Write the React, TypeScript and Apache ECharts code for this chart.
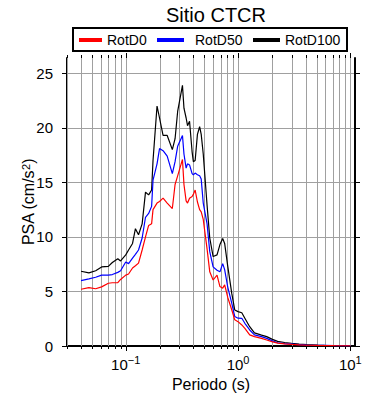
import React, { useEffect, useRef } from 'react';
import * as echarts from 'echarts';

const FONT = '"Liberation Sans", Arial, Helvetica, sans-serif';

const periods = [0.04, 0.047, 0.054, 0.061, 0.07, 0.076, 0.085, 0.09, 0.1, 0.106, 0.115, 0.122, 0.13, 0.14, 0.15, 0.16, 0.17, 0.175, 0.19, 0.2, 0.215, 0.234, 0.26, 0.275, 0.29, 0.32, 0.33, 0.345, 0.355, 0.37, 0.39, 0.4, 0.415, 0.435, 0.455, 0.47, 0.49, 0.53, 0.56, 0.6, 0.65, 0.69, 0.73, 0.76, 0.81, 0.88, 0.935, 1.0, 1.08, 1.15, 1.27, 1.4, 1.62, 1.8, 2.0, 2.25, 2.6, 3.0, 3.5, 4.1, 5.1, 5.9, 7.2, 10];

const rotD0 = [5.2, 5.35, 5.25, 5.42, 5.75, 5.8, 5.8, 6.1, 6.5, 6.6, 7.15, 7.35, 7.6, 8.8, 10.0, 11.05, 11.2, 12.5, 13.1, 13.25, 13.55, 13.1, 12.6, 14.8, 15.6, 17.1, 14.8, 13.3, 13.1, 13.55, 13.7, 13.9, 14.3, 13.2, 12.5, 12.3, 11.6, 8.9, 6.8, 6.05, 6.5, 5.45, 5.3, 5.6, 4.45, 3.3, 2.4, 2.23, 1.93, 1.62, 1.02, 0.86, 0.7, 0.55, 0.4, 0.26, 0.2, 0.15, 0.1, 0.07, 0.05, 0.04, 0.03, 0.02];

const rotD50 = [6.0, 6.15, 6.3, 6.5, 6.5, 6.55, 6.75, 6.9, 7.7, 7.55, 8.05, 8.4, 8.8, 9.9, 11.8, 12.15, 12.8, 15.2, 16.7, 18.1, 17.9, 17.4, 15.8, 16.9, 18.3, 19.3, 17.6, 16.3, 16.7, 16.6, 15.8, 15.7, 15.85, 15.7, 15.6, 15.3, 13.1, 11.2, 8.65, 7.25, 6.95, 6.8, 7.55, 7.0, 5.4, 3.9, 2.7, 2.55, 2.54, 2.08, 1.47, 1.02, 0.86, 0.7, 0.49, 0.3, 0.22, 0.18, 0.13, 0.09, 0.06, 0.05, 0.03, 0.02];

const rotD100 = [6.85, 6.7, 6.9, 7.25, 7.3, 7.65, 8.0, 7.8, 8.35, 8.8, 9.4, 10.75, 10.2, 11.2, 14.1, 13.85, 14.3, 17.0, 22.0, 20.9, 19.3, 19.3, 18.0, 19.0, 21.5, 23.9, 21.8, 20.9, 20.2, 20.6, 17.8, 16.9, 17.0, 19.4, 20.1, 19.4, 17.6, 12.9, 9.9, 8.2, 8.35, 9.3, 9.85, 9.4, 7.3, 4.8, 3.3, 3.15, 3.05, 2.55, 1.77, 1.2, 1.0, 0.86, 0.63, 0.42, 0.32, 0.25, 0.18, 0.12, 0.08, 0.06, 0.04, 0.02];

const seriesNames = ['RotD0', 'RotD50', 'RotD100'];
const seriesColors = ['#ff0000', '#0000ff', '#000000'];
const yTicks = [0, 5, 10, 15, 20, 25];
const gridPeriods = [0.03, 0.04, 0.05, 0.06, 0.07, 0.08, 0.09, 0.1, 0.2, 0.3, 0.4, 0.5, 0.6, 0.7, 0.8, 0.9, 1, 2, 3, 4, 5, 6, 7, 8, 9, 10];

const X_MIN = 0.03;
const X_MAX = 11;
const Y_MIN = 0;
const Y_MAX = 26.4;
const GRID_COLOR = '#a0a0a0';

function isDecade(v: number) {
  const lg = Math.log10(v);
  return Math.abs(lg - Math.round(lg)) < 1e-6;
}

function buildOption() {
  const allSeries = [rotD0, rotD50, rotD100];
  const lineSeries = allSeries.map((vals, i) => ({
    name: seriesNames[i],
    type: 'line',
    data: periods.map((p, j) => [p, vals[j]]),
    showSymbol: false,
    symbol: 'none',
    color: seriesColors[i],
    lineStyle: { color: seriesColors[i], width: 1.2 },
    z: 5 - i,
    xAxisIndex: 0,
    yAxisIndex: 0,
  }));

  const gridSeries = {
    name: 'xgrid',
    type: 'custom',
    xAxisIndex: 0,
    yAxisIndex: 0,
    clip: false,
    silent: true,
    z: 1,
    data: gridPeriods.map((p) => [p, 0]),
    renderItem: (params: any, api: any) => {
      const x = api.value(0);
      const top = api.coord([x, Y_MAX]);
      const bot = api.coord([x, Y_MIN]);
      const px = Math.round(top[0]) + 0.5;
      const len = isDecade(x) ? 5 : 3;
      return {
        type: 'group',
        children: [
          { type: 'line', shape: { x1: px, y1: top[1], x2: px, y2: bot[1] }, style: { stroke: GRID_COLOR, lineWidth: 1 } },
          { type: 'line', shape: { x1: px, y1: bot[1], x2: px, y2: bot[1] + len }, style: { stroke: '#000', lineWidth: 1 } },
          { type: 'line', shape: { x1: px, y1: top[1] - len, x2: px, y2: top[1] }, style: { stroke: '#000', lineWidth: 1 } },
        ],
      };
    },
  };

  const legendText = { fontFamily: FONT, fontSize: 14, color: '#000' };

  return {
    animation: false,
    backgroundColor: '#fff',
    title: {
      text: 'Sitio CTCR',
      left: 211,
      top: 0,
      textAlign: 'center',
      textStyle: { fontFamily: FONT, fontSize: 20, fontWeight: 'normal', color: '#000' },
    },
    legend: [
      { data: [seriesNames[0]], left: 79, top: 33, padding: 0, icon: 'rect', itemWidth: 23, itemHeight: 4, textStyle: legendText },
      { data: [seriesNames[1]], left: 157, top: 33, padding: 0, icon: 'rect', itemWidth: 27, itemHeight: 4, textStyle: { ...legendText, padding: [0, 0, 0, 6] } },
      { data: [seriesNames[2]], left: 253, top: 33, padding: 0, icon: 'rect', itemWidth: 27, itemHeight: 4, textStyle: legendText },
    ],
    graphic: [
      { type: 'rect', shape: { x: 73, y: 28, width: 274, height: 23 }, style: { fill: 'none', stroke: '#000', lineWidth: 2 }, z: 10 },
    ],
    grid: { left: 67, right: 35, top: 58, bottom: 54, containLabel: false },
    xAxis: [
      {
        type: 'log',
        position: 'bottom',
        min: X_MIN,
        max: X_MAX,
        name: 'Periodo (s)',
        nameLocation: 'middle',
        nameGap: 30,
        nameMoveOverlap: false,
        nameTextStyle: { fontFamily: FONT, fontSize: 16, color: '#000' },
        axisLine: { show: true, lineStyle: { color: '#000', width: 2 } },
        axisTick: { show: false },
        splitLine: { show: false },
        minorTick: { show: false },
        axisLabel: {
          show: true,
          margin: 8,
          showMinLabel: false,
          showMaxLabel: false,
          formatter: (v: number) => {
            if (!isDecade(v)) return '';
            const e = Math.round(Math.log10(v));
            const es = e < 0 ? '\u2212' + Math.abs(e) : String(e);
            return '{b|10}{s|' + es + '}';
          },
          rich: {
            b: { fontFamily: FONT, fontSize: 15, color: '#000', lineHeight: 20 },
            s: { fontFamily: FONT, fontSize: 11, color: '#000', verticalAlign: 'top', lineHeight: 11 },
          },
        },
      },
      {
        type: 'log',
        position: 'top',
        min: X_MIN,
        max: X_MAX,
        axisLine: { show: true, lineStyle: { color: '#000', width: 2 } },
        axisTick: { show: false },
        axisLabel: { show: false },
        splitLine: { show: false },
      },
    ],
    yAxis: [
      {
        type: 'value',
        position: 'left',
        min: Y_MIN,
        max: Y_MAX,
        interval: 5,
        name: 'PSA (cm/s{sup|2})',
        nameLocation: 'middle',
        nameGap: 31,
        nameMoveOverlap: false,
        nameRotate: 90,
        nameTextStyle: {
          fontFamily: FONT,
          fontSize: 16,
          color: '#000',
          rich: {
            sup: { fontFamily: FONT, fontSize: 11, color: '#000', verticalAlign: 'top', lineHeight: 11 },
          },
        },
        axisLine: { show: true, lineStyle: { color: '#000', width: 2 } },
        axisTick: { show: true, inside: false, length: 5, customValues: yTicks, lineStyle: { color: '#000', width: 1 } },
        axisLabel: { show: true, margin: 14, customValues: yTicks, fontFamily: FONT, fontSize: 15, color: '#000' },
        splitLine: { show: true, lineStyle: { color: GRID_COLOR, width: 1 } },
      },
      {
        type: 'value',
        position: 'right',
        min: Y_MIN,
        max: Y_MAX,
        interval: 5,
        axisLine: { show: true, lineStyle: { color: '#000', width: 2 } },
        axisTick: { show: true, inside: false, length: 5, customValues: yTicks, lineStyle: { color: '#000', width: 1 } },
        axisLabel: { show: false },
        splitLine: { show: false },
      },
    ],
    series: [gridSeries, ...lineSeries],
  };
}

export default function App() {
  const ref = useRef<HTMLDivElement>(null);
  useEffect(() => {
    const chart = echarts.init(ref.current as HTMLDivElement, null, { renderer: 'svg' });
    chart.setOption(buildOption() as any);
    return () => chart.dispose();
  }, []);
  return (
    <div
      ref={ref}
      style={{ position: 'fixed', left: 0, top: 0, width: 390, height: 400, background: '#fff' }}
    />
  );
}
